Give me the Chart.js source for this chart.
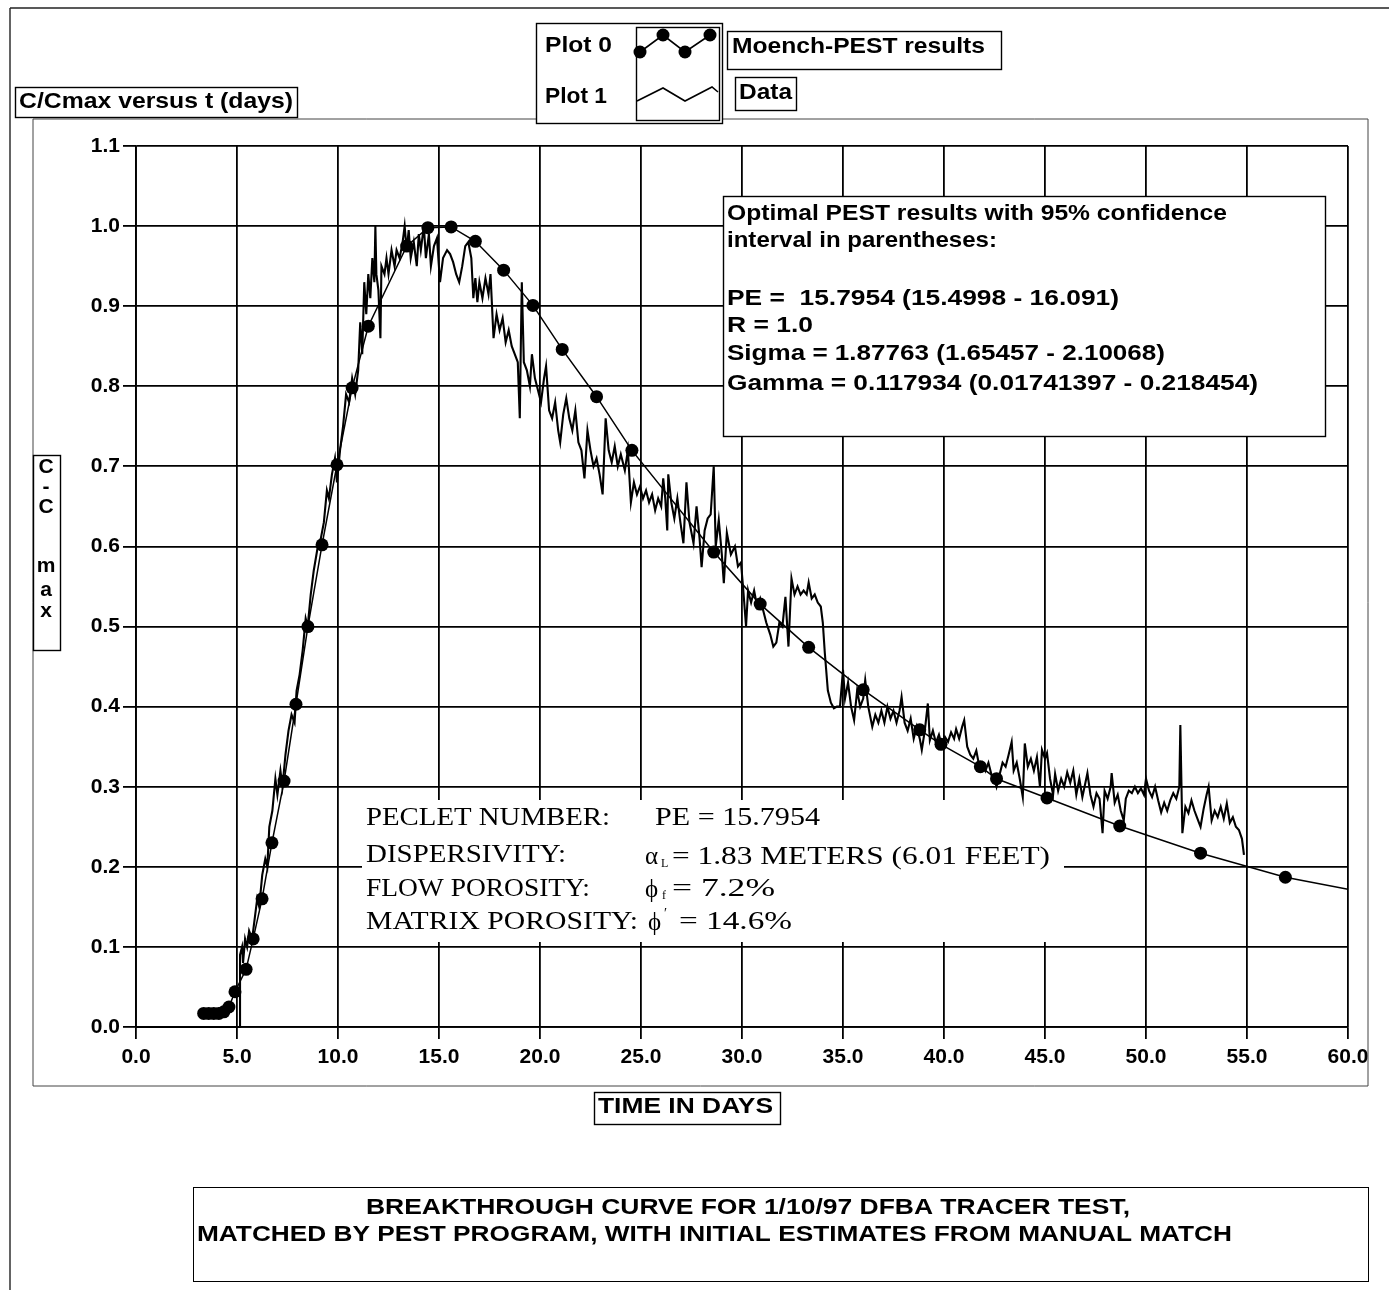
<!DOCTYPE html>
<html><head><meta charset="utf-8">
<script src="https://cdn.jsdelivr.net/npm/chart.js@4.4.1/dist/chart.umd.min.js"></script>
<style>html,body{margin:0;padding:0;background:#fff;}canvas{display:block;}</style>
</head><body>
<canvas id="c" width="1389" height="1290"></canvas>
<script>
// ---------- DATA ----------
const xMin = 0, xMax = 60, xStep = 5;
const yMin = 0, yMax = 1.1, yStep = 0.1;

// Moench-PEST model (Plot 0): [time (days), C/Cmax]
const modelPoints = [
  [3.35,0.017],[3.6,0.017],[3.85,0.017],[4.1,0.017],[4.35,0.019],[4.6,0.025],[4.9,0.044],
  [5.45,0.072],[5.8,0.11],[6.24,0.16],[6.73,0.23],[7.33,0.307],[7.92,0.403],[8.51,0.5],
  [9.21,0.602],[9.95,0.702],[10.7,0.798],[11.5,0.875],[13.4,0.975],[14.45,0.998],[15.6,0.999],
  [16.8,0.981],[18.2,0.945],[19.65,0.901],[21.1,0.846],[22.8,0.787],[24.55,0.72],[28.6,0.593],
  [30.9,0.528],[33.3,0.474],[36.0,0.421],[38.8,0.371],[39.85,0.353],[41.8,0.325],[42.6,0.31],
  [45.1,0.286],[48.7,0.251],[52.7,0.217],[56.9,0.187],[60,0.172]
];

// Measured data (Plot 1): [time (days), C/Cmax]
const dataPoints = [
  [0,0],[5.1,0],[5.15,0],[5.15,0.09],[5.25,0.1],[5.3,0.08],[5.4,0.11],[5.5,0.1],[5.6,0.12],[5.75,0.11],
  [5.9,0.14],[6.0,0.16],[6.1,0.15],[6.25,0.19],[6.4,0.21],[6.5,0.2],[6.6,0.25],[6.75,0.27],[6.9,0.31],
  [7.0,0.29],[7.15,0.32],[7.25,0.30],[7.4,0.34],[7.55,0.37],[7.7,0.39],[7.85,0.38],[7.95,0.42],[8.1,0.44],
  [8.25,0.47],[8.4,0.51],[8.5,0.50],[8.65,0.54],[8.8,0.57],[9.0,0.60],[9.15,0.61],[9.3,0.63],[9.45,0.67],
  [9.55,0.66],[9.7,0.69],[9.85,0.71],[9.95,0.68],[10.1,0.72],[10.25,0.75],[10.4,0.79],[10.55,0.78],
  [10.7,0.81],[10.85,0.79],[11.0,0.82],[11.1,0.88],[11.2,0.84],[11.3,0.93],[11.4,0.89],[11.5,0.94],
  [11.6,0.91],[11.7,0.96],[11.8,0.93],[11.85,1.0],[11.9,0.94],[12.0,0.92],[12.1,0.86],[12.15,0.95],
  [12.3,0.94],[12.4,0.96],[12.5,0.94],[12.65,0.97],[12.8,0.95],[12.9,0.97],[13.05,0.96],[13.2,0.98],
  [13.3,1.0],[13.4,0.97],[13.5,0.995],[13.6,0.96],[13.75,0.98],[13.9,0.95],[14.0,0.99],[14.1,0.97],
  [14.25,1.0],[14.35,0.96],[14.5,0.99],[14.6,0.95],[14.75,0.975],[14.9,0.985],[15.05,0.93],[15.2,0.96],
  [15.4,0.97],[15.55,0.965],[15.7,0.955],[15.85,0.94],[16.0,0.93],[16.15,0.95],[16.3,0.975],[16.45,0.98],
  [16.6,0.96],[16.7,0.91],[16.8,0.935],[16.9,0.905],[17.0,0.93],[17.15,0.91],[17.3,0.935],[17.45,0.915],
  [17.55,0.94],[17.7,0.86],[17.85,0.89],[18.0,0.87],[18.15,0.885],[18.3,0.855],[18.45,0.87],[18.6,0.85],
  [18.75,0.84],[18.9,0.83],[19.0,0.76],[19.05,0.85],[19.1,0.93],[19.2,0.83],[19.35,0.82],[19.5,0.80],
  [19.6,0.84],[19.75,0.81],[19.9,0.795],[20.05,0.78],[20.2,0.81],[20.3,0.825],[20.45,0.77],[20.6,0.76],
  [20.75,0.78],[20.9,0.745],[21.0,0.73],[21.15,0.765],[21.3,0.785],[21.45,0.76],[21.6,0.745],[21.75,0.77],
  [21.9,0.73],[22.05,0.72],[22.2,0.685],[22.35,0.745],[22.5,0.72],[22.65,0.70],[22.8,0.71],[22.95,0.69],
  [23.1,0.665],[23.25,0.76],[23.4,0.72],[23.55,0.705],[23.7,0.725],[23.85,0.70],[24.0,0.715],[24.2,0.695],
  [24.35,0.72],[24.5,0.655],[24.65,0.68],[24.8,0.665],[24.95,0.675],[25.1,0.66],[25.25,0.67],[25.4,0.655],
  [25.55,0.665],[25.7,0.645],[25.85,0.66],[26.0,0.65],[26.1,0.685],[26.2,0.66],[26.3,0.62],[26.35,0.69],
  [26.5,0.655],[26.65,0.635],[26.8,0.66],[26.95,0.63],[27.1,0.604],[27.25,0.68],[27.4,0.63],[27.6,0.604],
  [27.75,0.65],[27.9,0.61],[28.0,0.574],[28.15,0.62],[28.3,0.635],[28.45,0.64],[28.6,0.70],[28.7,0.60],
  [28.85,0.633],[29.0,0.59],[29.1,0.554],[29.25,0.617],[29.45,0.59],[29.65,0.6],[29.8,0.575],[29.95,0.58],
  [30.05,0.55],[30.2,0.50],[30.3,0.545],[30.45,0.53],[30.6,0.545],[30.75,0.525],[30.9,0.535],[31.05,0.52],
  [31.2,0.505],[31.4,0.49],[31.55,0.475],[31.7,0.48],[31.85,0.505],[32.0,0.50],[32.15,0.537],[32.3,0.475],
  [32.45,0.56],[32.6,0.54],[32.75,0.55],[32.9,0.54],[33.05,0.545],[33.2,0.54],[33.3,0.555],[33.45,0.535],
  [33.6,0.54],[33.75,0.53],[33.9,0.525],[34.0,0.505],[34.1,0.467],[34.25,0.42],[34.4,0.405],[34.55,0.398],
  [34.7,0.40],[34.85,0.40],[35.0,0.446],[35.1,0.41],[35.25,0.43],[35.4,0.40],[35.55,0.383],[35.7,0.42],
  [35.85,0.40],[36.0,0.41],[36.1,0.433],[36.25,0.40],[36.45,0.375],[36.6,0.39],[36.75,0.38],[36.9,0.395],
  [37.05,0.38],[37.2,0.40],[37.35,0.385],[37.5,0.395],[37.65,0.38],[37.8,0.395],[37.9,0.412],[38.05,0.38],
  [38.2,0.37],[38.35,0.385],[38.5,0.36],[38.65,0.375],[38.8,0.36],[38.9,0.346],[39.05,0.37],[39.2,0.404],
  [39.3,0.358],[39.45,0.37],[39.6,0.355],[39.75,0.365],[39.9,0.35],[40.05,0.362],[40.2,0.356],[40.35,0.368],
  [40.5,0.36],[40.6,0.372],[40.75,0.36],[40.9,0.375],[41.0,0.383],[41.15,0.35],[41.3,0.34],[41.45,0.335],
  [41.6,0.345],[41.75,0.325],[41.9,0.33],[42.05,0.32],[42.2,0.33],[42.35,0.315],[42.5,0.31],[42.6,0.30],
  [42.75,0.315],[42.9,0.33],[43.05,0.325],[43.2,0.34],[43.35,0.356],[43.45,0.32],[43.6,0.33],[43.75,0.31],
  [43.9,0.287],[44.0,0.354],[44.15,0.325],[44.3,0.335],[44.45,0.32],[44.6,0.337],[44.75,0.30],[44.85,0.346],
  [45.0,0.335],[45.1,0.342],[45.25,0.31],[45.4,0.29],[45.5,0.316],[45.65,0.295],[45.8,0.31],[45.95,0.30],
  [46.1,0.318],[46.25,0.305],[46.4,0.32],[46.55,0.29],[46.7,0.31],[46.85,0.287],[47.0,0.305],[47.1,0.317],
  [47.25,0.29],[47.4,0.275],[47.55,0.292],[47.7,0.285],[47.85,0.242],[47.95,0.295],[48.1,0.285],[48.25,0.30],
  [48.3,0.317],[48.45,0.28],[48.6,0.29],[48.75,0.27],[48.9,0.258],[49.0,0.285],[49.15,0.295],[49.3,0.292],
  [49.45,0.30],[49.6,0.292],[49.75,0.298],[49.9,0.29],[50.0,0.31],[50.15,0.295],[50.3,0.287],[50.45,0.30],
  [50.6,0.283],[50.75,0.268],[50.9,0.28],[51.05,0.27],[51.2,0.283],[51.35,0.292],[51.5,0.285],[51.65,0.30],
  [51.7,0.377],[51.8,0.242],[51.95,0.275],[52.1,0.267],[52.25,0.283],[52.4,0.27],[52.55,0.26],[52.7,0.25],
  [52.85,0.272],[53.0,0.29],[53.1,0.30],[53.25,0.258],[53.4,0.27],[53.55,0.262],[53.7,0.275],[53.85,0.26],
  [54.0,0.279],[54.15,0.255],[54.3,0.262],[54.45,0.25],[54.6,0.246],[54.75,0.235],[54.85,0.215]
];

const seriesNames = ['Moench-PEST results', 'Data'];
const legendRows = ['Plot 0', 'Plot 1'];

// ---------- DRAWING ----------
const SANS = "'Liberation Sans', Arial, Helvetica, sans-serif";
const SERIF = "'Liberation Serif', 'Times New Roman', serif";

function txt(ctx, s, x, y, size, w, family, weight) {
  ctx.save();
  ctx.font = (weight || 'normal') + ' ' + size + 'px ' + (family || SANS);
  ctx.fillStyle = '#000';
  ctx.textBaseline = 'middle';
  ctx.textAlign = 'left';
  const m = ctx.measureText(s).width;
  const sx = w ? w / m : 1;
  ctx.translate(x, y);
  ctx.scale(sx, 1);
  ctx.fillText(s, 0, 0);
  ctx.restore();
}
function stxt(ctx, s, x, y, size, w) { txt(ctx, s, x, y, size, w, SANS, 'bold'); }
function box(ctx, x1, y1, x2, y2, fill, lw) {
  ctx.save();
  if (fill) { ctx.fillStyle = '#fff'; ctx.fillRect(x1, y1, x2 - x1, y2 - y1); }
  ctx.strokeStyle = '#000';
  ctx.lineWidth = lw || 1.4;
  ctx.strokeRect(x1 + 0.5, y1 + 0.5, x2 - x1, y2 - y1);
  ctx.restore();
}
function line(ctx, pts, lw, col) {
  ctx.save();
  ctx.strokeStyle = col || '#000';
  ctx.lineWidth = lw || 1;
  ctx.beginPath();
  pts.forEach((p, i) => i ? ctx.lineTo(p[0], p[1]) : ctx.moveTo(p[0], p[1]));
  ctx.stroke();
  ctx.restore();
}

const deco = {
  id: 'deco',
  beforeDraw(chart) {
    const ctx = chart.ctx;
    ctx.save();
    ctx.fillStyle = '#fff';
    ctx.fillRect(0, 0, chart.width, chart.height);
    ctx.restore();
  },
  beforeDatasetsDraw(chart) {
    const ctx = chart.ctx;
    ctx.save();
    ctx.fillStyle = '#fff';
    ctx.fillRect(362, 800, 702, 142);
    ctx.restore();
  },
  afterDatasetsDraw(chart) {
    const ctx = chart.ctx;
    // outer scan frame
    line(ctx, [[10, 8], [1389, 8]], 1.4, '#222');
    line(ctx, [[10, 8], [10, 1290]], 1.4, '#222');
    // inner frame
    line(ctx, [[33, 119], [1368, 119]], 1, '#444');
    line(ctx, [[33, 119], [33, 1086]], 1, '#444');
    line(ctx, [[33, 1086], [1368, 1086]], 1, '#444');
    line(ctx, [[1368, 119], [1368, 1086]], 1, '#444');

    // top-left label
    box(ctx, 15, 87, 297, 117, true);
    stxt(ctx, 'C/Cmax versus t (days)', 19, 102, 22, 274);

    // legend
    box(ctx, 536, 23, 722, 123, true);
    box(ctx, 636, 27, 719, 120, false);
    stxt(ctx, legendRows[0], 545, 46, 22, 67);
    stxt(ctx, legendRows[1], 545, 97, 22, 62);
    const mk = [[640, 52], [663, 35], [685, 52], [710, 35]];
    line(ctx, mk, 1.6);
    ctx.save(); ctx.fillStyle = '#000';
    mk.forEach(p => { ctx.beginPath(); ctx.arc(p[0], p[1], 6.5, 0, Math.PI * 2); ctx.fill(); });
    ctx.restore();
    line(ctx, [[637, 101], [663, 88], [685, 101], [712, 87], [718, 92]], 1.6);
    box(ctx, 727, 31, 1001, 69, true);
    stxt(ctx, seriesNames[0], 732, 47, 22, 253);
    box(ctx, 735, 77, 796, 110, true);
    stxt(ctx, seriesNames[1], 739, 93, 22, 53);

    // y-axis title (vertical letters)
    box(ctx, 33, 455, 60, 650, true);
    const yl = ['C', '-', 'C', 'm', 'a', 'x'];
    const yy = [467, 487, 507, 566, 590, 611];
    ctx.save(); ctx.font = 'bold 21px ' + SANS; ctx.fillStyle = '#000';
    ctx.textAlign = 'center'; ctx.textBaseline = 'middle';
    yl.forEach((c, i) => ctx.fillText(c, 46, yy[i]));
    ctx.restore();

    // results box
    box(ctx, 723, 196, 1325, 436, true);
    stxt(ctx, 'Optimal PEST results with 95% confidence', 727, 214, 22, 500);
    stxt(ctx, 'interval in parentheses:', 727, 241, 22, 270);
    stxt(ctx, 'PE =  15.7954 (15.4998 - 16.091)', 727, 299, 22, 392);
    stxt(ctx, 'R = 1.0', 727, 326, 22, 86);
    stxt(ctx, 'Sigma = 1.87763 (1.65457 - 2.10068)', 727, 354, 22, 438);
    stxt(ctx, 'Gamma = 0.117934 (0.01741397 - 0.218454)', 727, 384, 22, 531);

    // parameter text block (serif)
    txt(ctx, 'PECLET NUMBER:', 366, 818, 25, 244, SERIF);
    txt(ctx, 'PE = 15.7954', 655, 818, 25, 165, SERIF);
    txt(ctx, 'DISPERSIVITY:', 366, 855, 25, 200, SERIF);
    txt(ctx, '\u03B1', 645, 857, 25, null, SERIF);
    txt(ctx, 'L', 661, 864, 12, null, SERIF);
    txt(ctx, '= 1.83 METERS (6.01 FEET)', 672, 857, 25, 378, SERIF);
    txt(ctx, 'FLOW POROSITY:', 366, 889, 25, 224, SERIF);
    txt(ctx, '\u03D5', 645, 890, 25, null, SERIF);
    txt(ctx, 'f', 662, 896, 12, null, SERIF);
    txt(ctx, '= 7.2%', 672, 889, 25, 103, SERIF);
    txt(ctx, 'MATRIX POROSITY:', 366, 922, 25, 272, SERIF);
    txt(ctx, '\u03D5', 648, 923, 25, null, SERIF);
    txt(ctx, '\u2032', 664, 914, 14, null, SERIF);
    txt(ctx, '= 14.6%', 679, 922, 25, 113, SERIF);

    // x-axis title
    box(ctx, 594, 1092, 780, 1124, true);
    stxt(ctx, 'TIME IN DAYS', 598, 1107, 22, 175);

    // bottom title
    box(ctx, 193, 1187, 1368, 1281, true, 1);
    stxt(ctx, 'BREAKTHROUGH CURVE FOR 1/10/97 DFBA TRACER TEST,', 366, 1208, 22, 764);
    stxt(ctx, 'MATCHED BY PEST PROGRAM, WITH INITIAL ESTIMATES FROM MANUAL MATCH', 197, 1235, 22, 1035);
  }
};

const ctx = document.getElementById('c').getContext('2d');
new Chart(ctx, {
  type: 'line',
  data: {
    datasets: [
      {
        label: seriesNames[0],
        data: modelPoints.map(p => ({ x: p[0], y: p[1] })),
        borderColor: '#000',
        borderWidth: 1.5,
        pointRadius: c => (c.dataIndex === modelPoints.length - 1 ? 0 : 6.5),
        pointBackgroundColor: '#000',
        pointBorderColor: '#000',
        pointBorderWidth: 0,
        tension: 0
      },
      {
        label: seriesNames[1],
        data: dataPoints.map(p => ({ x: p[0], y: p[1] })),
        borderColor: '#000',
        borderWidth: 2.1,
        pointRadius: 0,
        tension: 0,
        clip: false
      }
    ]
  },
  options: {
    responsive: false,
    animation: false,
    devicePixelRatio: 1,
    layout: { padding: { left: 0, top: 146, right: 41, bottom: 0 } },
    plugins: { legend: { display: false }, tooltip: { enabled: false } },
    scales: {
      x: {
        type: 'linear', min: xMin, max: xMax,
        afterFit: s => { s.height = 263; },
        ticks: {
          stepSize: xStep, color: '#000', padding: 6,
          font: { family: SANS, size: 21, weight: 'bold' },
          callback: v => Number(v).toFixed(1),
          maxRotation: 0, autoSkip: false
        },
        grid: { color: '#000', lineWidth: 1.8, tickLength: 12, tickColor: '#000' },
        border: { color: '#000', width: 1.8 }
      },
      y: {
        type: 'linear', min: yMin, max: yMax,
        afterFit: s => { s.width = 136; },
        ticks: {
          stepSize: yStep, color: '#000', padding: 3,
          font: { family: SANS, size: 21, weight: 'bold' },
          callback: v => Number(v).toFixed(1),
          autoSkip: false
        },
        grid: { color: '#000', lineWidth: 1.8, tickLength: 13, tickColor: '#000' },
        border: { color: '#000', width: 1.8 }
      }
    }
  },
  plugins: [deco]
});
</script>
</body></html>
